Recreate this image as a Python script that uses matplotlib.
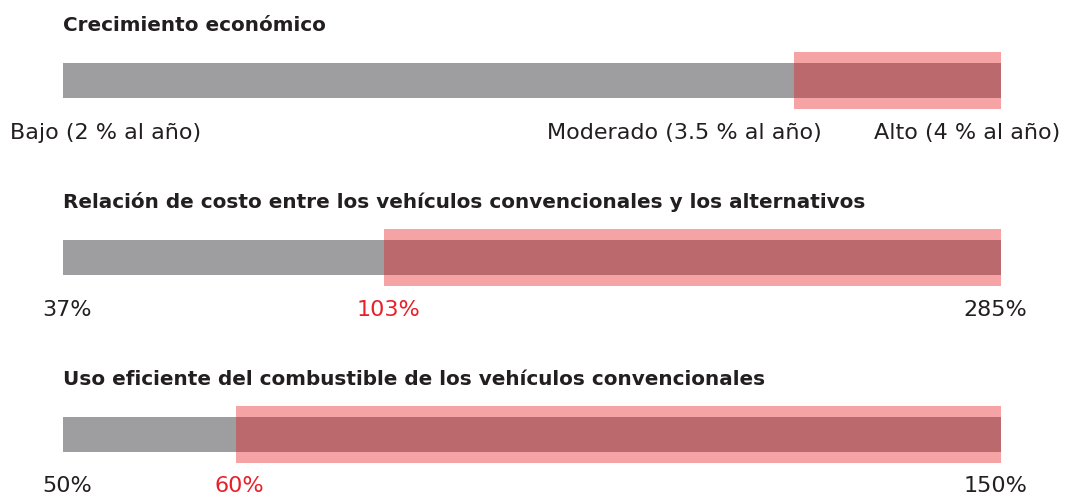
import matplotlib.pyplot as plt
import numpy as np

plt.rcParams['font.family'] = ['DejaVu Sans']

# Rows: title, scale end points and start of the highlighted range
titles = [
    "Crecimiento económico",
    "Relación de costo entre los vehículos convencionales y los alternativos",
    "Uso eficiente del combustible de los vehículos convencionales",
]
low_values = [2, 37, 50]
mid_values = [3.5, 103, 60]
high_values = [4, 285, 150]

row1_labels = ["Bajo (2 % al año)", "Moderado (3.5 % al año)", "Alto (4 % al año)"]
pct_labels = [
    ["37%", "103%", "285%"],
    ["50%", "60%", "150%"],
]

# where the middle value sits along each bar (fraction of bar length)
mid_pos = [0.779, 0.342, 0.184]

GREY = "#9e9ea0"
RANGE = "#e91a22"
DARK = "#231f20"
RED = "#e8202a"

fig = plt.figure(figsize=(10.65, 4.98), dpi=100)
W, H = 1065, 498
centers = [80.5, 257.5, 434.0]
bar_h, band_h = 35, 57
x0, x1 = 63, 1001

for i in range(3):
    lo, mid, hi = low_values[i], mid_values[i], high_values[i]
    bottom = 1 - (centers[i] + band_h / 2) / H
    ax = fig.add_axes([x0 / W, bottom, (x1 - x0) / W, band_h / H])

    xp = [lo, mid, hi]
    fp = [0, mid_pos[i], 1]
    ax.set_xscale('function', functions=(lambda v, xp=xp, fp=fp: np.interp(v, xp, fp),
                                         lambda v, xp=xp, fp=fp: np.interp(v, fp, xp)))
    ax.set_xlim(lo, hi)
    ax.set_ylim(0, 1)
    ax.axis('off')

    inner = (band_h - bar_h) / 2 / band_h
    ax.barh(0.5, hi - lo, left=lo, height=1 - 2 * inner, color=GREY, zorder=1)
    ax.barh(0.5, hi - mid, left=mid, height=1.0, color=RANGE, alpha=0.4,
            linewidth=0, zorder=2)

    ax.annotate(titles[i], xy=(0, 0.5), xycoords='axes fraction',
                xytext=(0, 35.6), textcoords='offset points',
                ha='left', va='baseline', fontsize=14.4, fontweight='bold',
                color=DARK)

    if i == 0:
        specs = [(lo, row1_labels[0], 'left', -38, DARK),
                 (mid, row1_labels[1], 'right', 20, DARK),
                 (hi, row1_labels[2], 'right', 43, DARK)]
    else:
        labs = pct_labels[i - 1]
        specs = [(lo, labs[0], 'center', 3, DARK),
                 (mid, labs[1], 'center', 3, RED),
                 (hi, labs[2], 'center', -4, DARK)]
    for val, txt, ha, dx, col in specs:
        ax.annotate(txt, xy=(val, 0.5), xycoords=('data', 'axes fraction'),
                    xytext=(dx, -41.8), textcoords='offset points',
                    ha=ha, va='baseline', fontsize=16, color=col,
                    annotation_clip=False)

fig.savefig("out.png", dpi=100)
